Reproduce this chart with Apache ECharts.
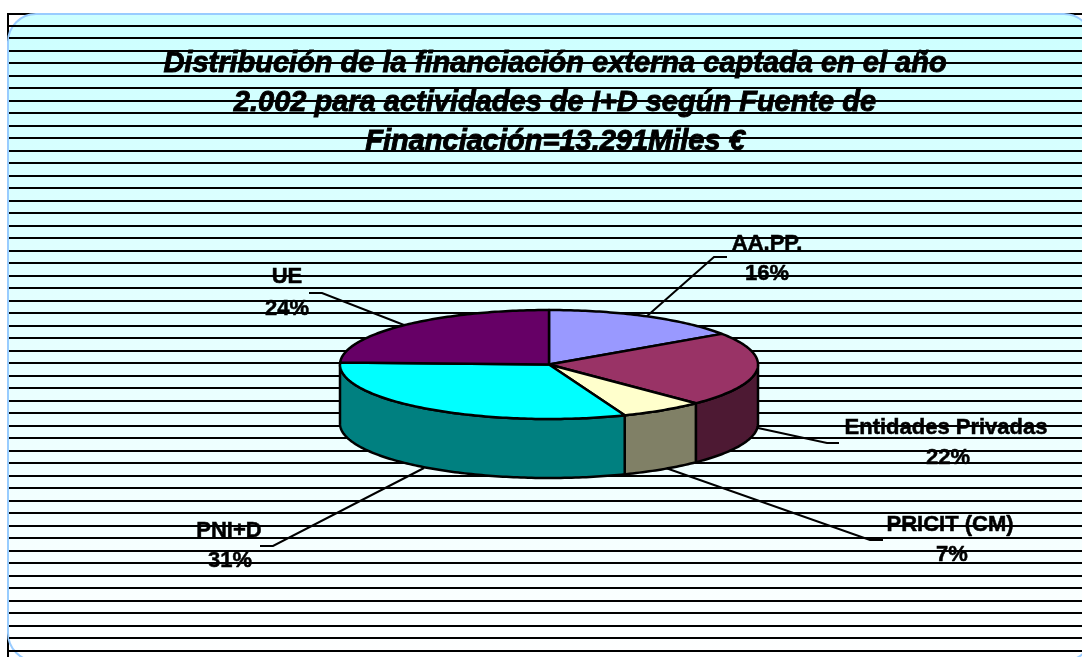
<!DOCTYPE html>
<html>
<head>
<meta charset="utf-8">
<title>Financiación externa 2002</title>
<script src="https://cdn.jsdelivr.net/npm/echarts@6/dist/echarts.min.js"></script>
<style>
  html, body { margin: 0; padding: 0; background: #fff; }
  #main { width: 1082px; height: 657px; }
</style>
</head>
<body>
<div id="main"></div>
<script>
var titleText = "Distribución de la financiación externa captada en el año\n2.002 para actividades de I+D según Fuente de\nFinanciación=13.291Miles €";

var categories = ["AA.PP.", "Entidades Privadas", "PRICIT (CM)", "PNI+D", "UE"];
var shares = [15.5, 22.1, 6.5, 31.45, 24.45];
var topColors = ["#9999FF", "#993366", "#FFFFCC", "#00FFFF", "#660066"];
var sideColors = ["#4C4C80", "#4D1933", "#808066", "#008080", "#330033"];

// label centre and leader line for each slice
var labelPos = [[767, 244], [946, 428], [950, 525], [229, 531], [287, 277]];
var percentPos = [[767, 274], [948, 458], [952, 555], [230, 561], [287, 309]];
var leaders = [
  [[646, 317], [714, 257], [727, 257]],
  [[758, 428], [827, 443], [839, 443]],
  [[663, 467], [870, 540], [883, 540]],
  [[424, 468], [273, 546], [260, 546]],
  [[404, 325], [322, 293], [309, 293]]
];

var pieCx = 549, pieCy = 364.5, pieRx = 209, pieRy = 54.5, pieDepth = 59;
var labelFont = "bold 22px 'Liberation Sans'";

var total = shares.reduce(function (a, b) { return a + b; }, 0);

function ellipsePoint(deg, dy) {
  var r = deg * Math.PI / 180;
  return [pieCx + pieRx * Math.sin(r), pieCy - pieRy * Math.cos(r) + (dy || 0)];
}

function arcPoints(from, to, dy) {
  var pts = [];
  for (var d = from; d < to; d += 1) {
    pts.push(ellipsePoint(d, dy));
  }
  pts.push(ellipsePoint(to, dy));
  return pts;
}

function labelText(text, pos) {
  return {
    type: "text",
    z2: 4,
    style: {
      text: text,
      x: pos[0],
      y: pos[1],
      textAlign: "center",
      textVerticalAlign: "middle",
      font: labelFont,
      fill: "#000",
      stroke: "#000",
      lineWidth: 0.5
    }
  };
}

function renderSlice(params, api) {
  var i = params.dataIndex;
  var before = 0;
  for (var k = 0; k < i; k++) before += shares[k];
  var start = before / total * 360;
  var end = (before + api.value(0)) / total * 360;
  var children = [];

  // leader goes under the pie
  children.push({
    type: "polyline",
    z2: 1,
    shape: { points: leaders[i] },
    style: { fill: null, stroke: "#000", lineWidth: 2 }
  });

  // side wall, only the front half shows
  var wallFrom = Math.max(start, 90);
  var wallTo = Math.min(end, 270);
  if (wallTo > wallFrom) {
    var upper = arcPoints(wallFrom, wallTo, 0);
    var lower = arcPoints(wallFrom, wallTo, pieDepth).reverse();
    children.push({
      type: "polygon",
      z2: 2,
      shape: { points: upper.concat(lower) },
      style: { fill: sideColors[i], stroke: "#000", lineWidth: 2.5 }
    });
  }

  children.push({
    type: "polygon",
    z2: 3,
    shape: { points: [[pieCx, pieCy]].concat(arcPoints(start, end, 0)) },
    style: { fill: topColors[i], stroke: "#000", lineWidth: 2.5, lineJoin: "round" }
  });

  children.push(labelText(categories[i], labelPos[i]));
  children.push(labelText(Math.round(api.value(0)) + "%", percentPos[i]));

  return { type: "group", children: children };
}

var myChart = echarts.init(document.getElementById("main"));

var option = {
  animation: false,
  backgroundColor: "#fff",
  title: {
    text: titleText,
    left: 550,
    top: 39,
    textAlign: "center",
    textStyle: {
      fontFamily: "'Liberation Sans'",
      fontSize: 29,
      fontWeight: "bold",
      fontStyle: "italic",
      color: "#000",
      textBorderColor: "#000",
      textBorderWidth: 0.9,
      lineHeight: 39
    }
  },
  graphic: [
    {
      type: "rect",
      z: -2,
      shape: { x: 8, y: 14, width: 1100, height: 670 },
      style: { fill: "#fff", stroke: "#000", lineWidth: 2 }
    },
    {
      type: "rect",
      z: -1,
      shape: { x: 8, y: 14, width: 1084, height: 647, r: 28 },
      style: {
        stroke: "#99CCFF",
        lineWidth: 2,
        fill: {
          type: "linear", x: 0, y: 0, x2: 0, y2: 1,
          colorStops: [
            { offset: 0, color: "#CCFFFF" },
            { offset: 1, color: "#FFFFFF" }
          ]
        }
      }
    }
  ],
  grid: { left: 9, right: 0, top: 25.5, bottom: 6.5 },
  xAxis: {
    type: "value",
    min: 0,
    max: 1,
    axisLine: { show: false },
    axisTick: { show: false },
    axisLabel: { show: false },
    splitLine: { show: false }
  },
  yAxis: {
    type: "value",
    min: 0,
    max: 50,
    interval: 1,
    axisLine: { show: false },
    axisTick: { show: false },
    axisLabel: { show: false },
    splitLine: { show: true, lineStyle: { color: "#000", width: 1.8, type: "solid" } }
  },
  series: [
    {
      type: "custom",
      coordinateSystem: "none",
      renderItem: renderSlice,
      data: shares.map(function (v, i) { return { name: categories[i], value: [v] }; })
    }
  ]
};
myChart.setOption(option);
</script>
</body>
</html>
